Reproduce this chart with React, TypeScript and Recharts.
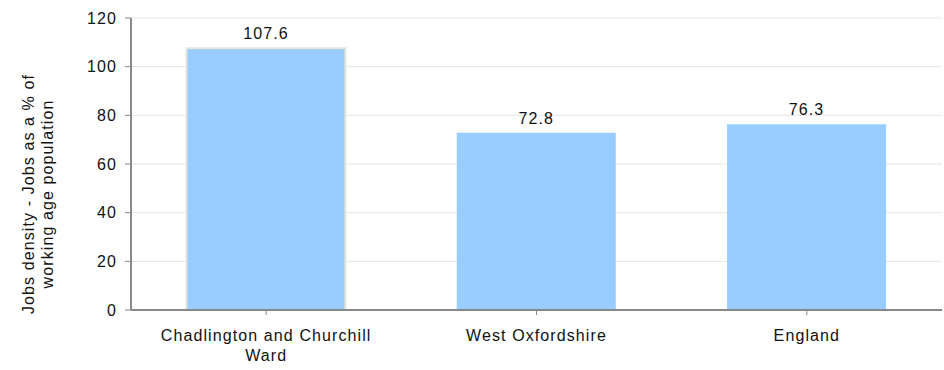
import React from "react";
import { BarChart, Bar, XAxis, YAxis, CartesianGrid, LabelList, Cell, Text } from "recharts";

const categories = ["Chadlington and Churchill Ward", "West Oxfordshire", "England"];
const values = [107.6, 72.8, 76.3];
const yTicks = [0, 20, 40, 60, 80, 100, 120];
const yLabelLines = ["Jobs density - Jobs as a % of", "working age population"];

const data = categories.map((name, i) => ({ name, value: values[i] }));

const FONT = "'Liberation Sans', Arial, sans-serif";
const FS = 16;
const LS = 1.1;

const CatTick = (props: any) => {
  const { x, y, payload } = props;
  return (
    <Text
      x={x}
      y={y + 13}
      width={200}
      textAnchor="middle"
      verticalAnchor="start"
      fontSize={FS}
      fill="#111"
      fontFamily={FONT}
      letterSpacing={LS}
      lineHeight={20}
    >
      {payload.value}
    </Text>
  );
};

const YLabel = () => {
  const cy = 194;
  const cx = 34;
  return (
    <text
      transform={`translate(${cx},${cy}) rotate(-90)`}
      textAnchor="middle"
      fontSize={FS}
      fill="#111"
      fontFamily={FONT}
      letterSpacing={LS}
    >
      {yLabelLines.map((l, i) => (
        <tspan key={i} x={0} dy={i === 0 ? 0 : 19}>
          {l}
        </tspan>
      ))}
    </text>
  );
};

export default function App() {
  return (
    <div style={{ position: "absolute", left: 0, top: 0, background: "#fff" }}>
      <BarChart
        width={944}
        height={370}
        data={data}
        margin={{ top: 18, right: 2, left: 0, bottom: 0 }}
        barCategoryGap="20.5%"
      >
        <CartesianGrid vertical={false} stroke="#e6e6e6" strokeWidth={1} />
        <XAxis
          dataKey="name"
          height={60}
          interval={0}
          tick={<CatTick />}
          tickLine={{ stroke: "#888" }}
          tickSize={5}
          axisLine={{ stroke: "#888", strokeWidth: 2 }}
        />
        <YAxis
          width={131}
          domain={[0, 120]}
          ticks={yTicks}
          tick={{ fontSize: FS, fill: "#111", fontFamily: FONT, letterSpacing: LS }}
          tickLine={{ stroke: "#888" }}
          tickSize={6}
          tickMargin={8}
          axisLine={{ stroke: "#888", strokeWidth: 2 }}
          label={<YLabel />}
        />
        <Bar dataKey="value" fill="#99ccff" isAnimationActive={false}>
          {data.map((d, i) => (
            <Cell key={i} fill="#99ccff" stroke={i === 0 ? "#e6e6dc" : "none"} strokeWidth={i === 0 ? 2 : 0} />
          ))}
          <LabelList
            dataKey="value"
            position="top"
            offset={9}
            fontSize={FS}
            fill="#111"
            fontFamily={FONT}
            letterSpacing={LS}
          />
        </Bar>
      </BarChart>
    </div>
  );
}
